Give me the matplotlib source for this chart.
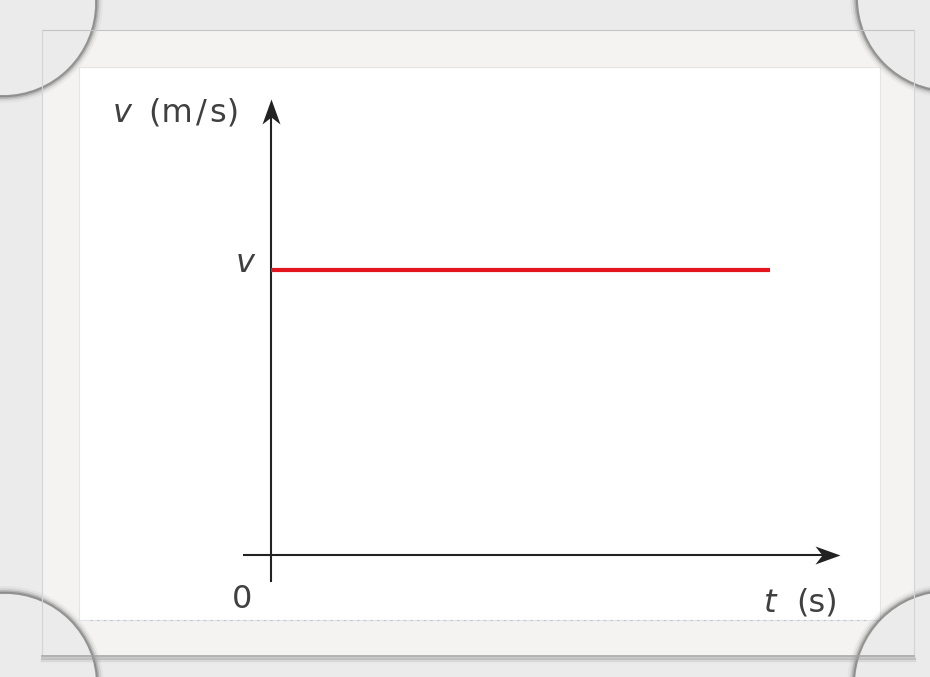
import matplotlib
matplotlib.use("Agg")
import matplotlib.pyplot as plt
from matplotlib.patches import Rectangle, Circle
from matplotlib.path import Path

# data: constant velocity over time
t = [0, 10]
v = [1, 1]
t_axis_end = 11.4
v_axis_end = 1.6

fig = plt.figure(figsize=(9.3, 6.77), dpi=100)
fig.patch.set_facecolor("#ebebeb")

# background / photo frame, pixel coords
bg = fig.add_axes([0, 0, 1, 1])
bg.set_xlim(0, 930)
bg.set_ylim(677, 0)
bg.axis("off")

bg.add_patch(Rectangle((42, 30), 872, 626, facecolor="#f4f3f1", edgecolor="none"))
bg.add_patch(Rectangle((79, 67), 801, 553, facecolor="white", edgecolor="#e4e4e4", lw=0.8))
bg.plot([42, 914], [30, 30], color="#c4c4c4", lw=0.8)
bg.plot([42, 42], [30, 655], color="#d4d4d4", lw=0.8)
bg.plot([914, 914], [30, 655], color="#d4d4d4", lw=0.8)
for off, w, a in [(0, 1.2, 0.9), (1.5, 2, 0.5), (3.5, 2.5, 0.25)]:
    bg.plot([42, 914], [656 + off, 656 + off], color="#a0a0a0", lw=w, alpha=a)
bg.plot([90, 870], [620, 620], color="#b8c4e0", lw=0.8, ls=(0, (2, 4)))

# corner clips with soft shadow on the inner side
for cx, cy, r in [(3, 3, 92), (950, -2, 92), (5, 685, 91), (948, 685, 93)]:
    for dr, w, a in [(5, 4, 0.06), (3.5, 3, 0.12), (2, 2.5, 0.25), (0.8, 2, 0.45)]:
        bg.add_patch(Circle((cx, cy), r + dr, facecolor="none", edgecolor="#555555", lw=w, alpha=a))
    bg.add_patch(Circle((cx, cy), r, facecolor="#ebebeb", edgecolor="none"))

# chart
left, right, top, bottom = 243, 845, 95, 585
ax = fig.add_axes([left / 930, 1 - bottom / 677, (right - left) / 930, (bottom - top) / 677])
ax.set_xlim((left - 271) / 49.9, (right - 271) / 49.9)
ax.set_ylim((555 - bottom) / 285, (555 - top) / 285)
ax.axis("off")
ax.patch.set_alpha(0)

# stealth arrow heads as custom markers (tip at the marker origin)
head_right = Path([(0, 0), (-25, 9), (-18, 0), (-25, -9), (0, 0)],
                  [Path.MOVETO, Path.LINETO, Path.LINETO, Path.LINETO, Path.CLOSEPOLY])
head_up = Path([(0, 0), (9, -25), (0, -18), (-9, -25), (0, 0)],
               [Path.MOVETO, Path.LINETO, Path.LINETO, Path.LINETO, Path.CLOSEPOLY])

axis_col = "#222222"
ax.plot([ax.get_xlim()[0], t_axis_end - 0.2], [0, 0], color=axis_col, lw=1.5)
ax.plot([0, 0], [-0.09, v_axis_end - 0.03], color=axis_col, lw=1.5)
ax.plot(t_axis_end, 0, marker=head_right, ms=36, color=axis_col, mew=0)
ax.plot(0, v_axis_end, marker=head_up, ms=36, color=axis_col, mew=0)

ax.plot(t, v, color="#e3161f", lw=3, solid_capstyle="butt")

fam = ["DejaVu Sans"]
txt = dict(family=fam, fontsize=23, color="#404040", textcoords="offset pixels", va="baseline")
ax.annotate("(m\u200a/\u200as)", xy=(0, v_axis_end), xytext=(-32, -23), ha="right", **txt)
ax.annotate("v", xy=(0, v_axis_end), xytext=(-139, -23), ha="right", style="italic", **txt)
ax.annotate("v", xy=(0, v[0]), xytext=(-16, -2), ha="right", style="italic", **txt)
ax.annotate("0", xy=(0, 0), xytext=(-29, -53), ha="center", **txt)
ax.annotate("(s)", xy=(t_axis_end, 0), xytext=(-2, -57), ha="right", **txt)
ax.annotate("t", xy=(t_axis_end, 0), xytext=(-63, -57), ha="right", style="italic", **txt)

fig.savefig("out.png", dpi=100, facecolor=fig.get_facecolor())
